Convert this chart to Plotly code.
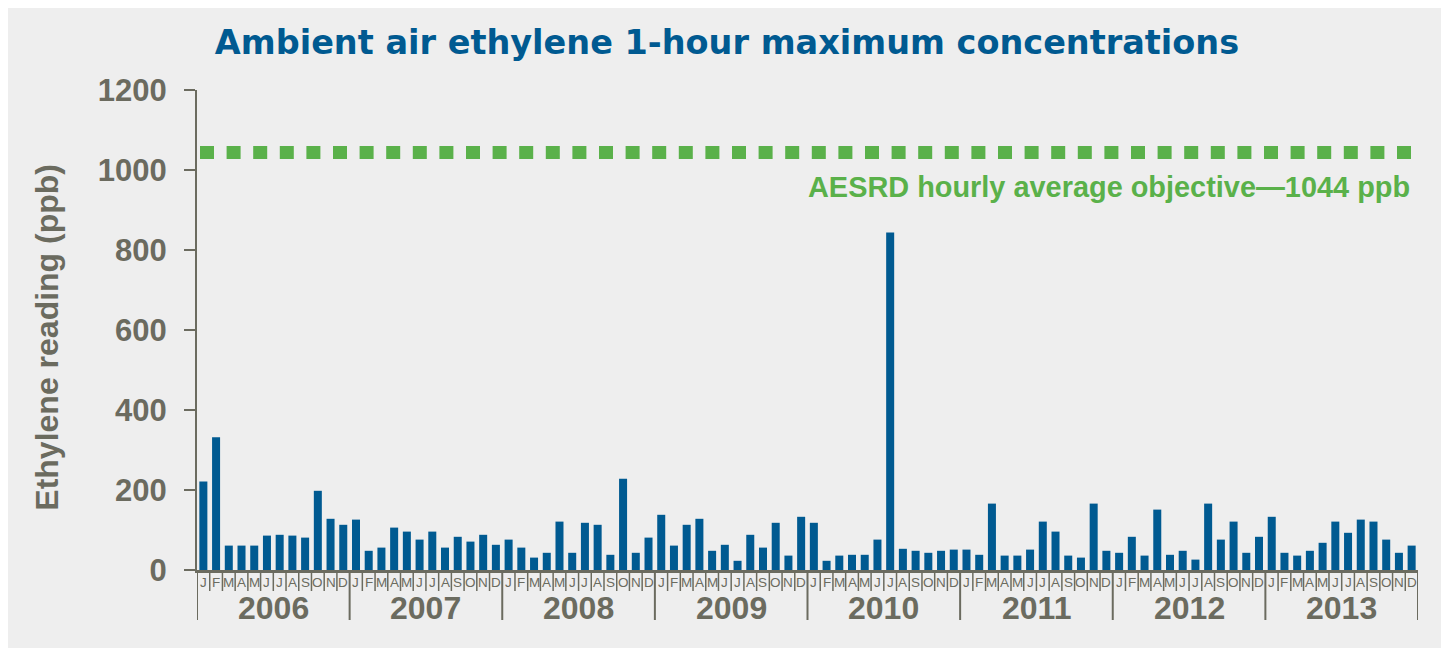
import plotly.graph_objects as go

# ---------------- data ----------------
years = ["2006", "2007", "2008", "2009", "2010", "2011", "2012", "2013"]
month_letters = ["J", "F", "M", "A", "M", "J", "J", "A", "S", "O", "N", "D"]

v2006 = [221, 332, 61, 61, 61, 86, 88, 86, 81, 198, 128, 113]
v2007 = [126, 48, 56, 106, 96, 76, 96, 56, 83, 71, 88, 63]
v2008 = [76, 56, 31, 43, 121, 43, 118, 113, 38, 228, 43, 81]
v2009 = [138, 61, 113, 128, 48, 63, 23, 88, 56, 118, 36, 133]
v2010 = [118, 23, 36, 38, 38, 76, 844, 53, 48, 43, 48, 51]
v2011 = [51, 38, 166, 36, 36, 51, 121, 96, 36, 31, 166, 48]
v2012 = [43, 83, 36, 151, 38, 48, 26, 166, 76, 121, 43, 83]
v2013 = [133, 43, 36, 48, 68, 121, 93, 126, 121, 76, 43, 61]

objective = 1044
objective_label = "AESRD hourly average objective\u20141044 ppb"
title_text = "Ambient air ethylene 1-hour maximum concentrations"
y_title = "Ethylene reading (ppb)"
y_ticks = [0, 200, 400, 600, 800, 1000, 1200]

values = v2006 + v2007 + v2008 + v2009 + v2010 + v2011 + v2012 + v2013
n = len(values)
xpos = list(range(n))
labels = month_letters * len(years)

# ---------------- styling ----------------
BLUE = "#005A91"
GREEN = "#5AB14A"
GRAY = "#6B6B5F"
BG = "#EEEEEE"
W, H = 1449, 648          # page body adds an 8px margin top/left
ML, MR, MT, MB = 189, 39, 82, 86
plot_w = W - ML - MR
plot_h = H - MT - MB
OFF = 8                    # page offset of the figure
PL = ML + OFF              # page x of plot left edge

fig = go.Figure()
fig.add_trace(go.Bar(x=xpos, y=values, marker=dict(color=BLUE, line=dict(width=0)),
                     hoverinfo="y", showlegend=False))

shapes = []
# objective line
shapes.append(dict(type="line", xref="paper", yref="y",
                   x0=3 / plot_w, x1=(1413 - PL) / plot_w, y0=objective, y1=objective,
                   line=dict(color=GREEN, width=13, dash="14px,12.6px")))

# month / year separators below axis
for i in range(n + 1):
    is_year = (i % 12 == 0)
    shapes.append(dict(type="line", xref="x", yref="paper",
                       x0=i - 0.5, x1=i - 0.5, y0=0,
                       y1=-(50 if is_year else 21) / plot_h,
                       line=dict(color=GRAY, width=2 if is_year else 1.5)))

annotations = []
for i, lab in enumerate(labels):
    annotations.append(dict(x=xpos[i], y=0, xref="x", yref="paper", text=lab,
                            showarrow=False, yanchor="middle", yshift=-12,
                            font=dict(family="Liberation Sans", size=13.5, color=GRAY)))
for k, yr in enumerate(years):
    annotations.append(dict(x=12 * k + 5.5, y=0, xref="x", yref="paper", text=yr,
                            showarrow=False, yanchor="middle", yshift=-38,
                            font=dict(family="Liberation Sans", size=32, color=GRAY,
                                      weight="bold")))
annotations.append(dict(x=(1412 - PL) / plot_w, y=957, xref="paper", yref="y",
                        text=objective_label, showarrow=False, xanchor="right",
                        yanchor="middle",
                        font=dict(family="Liberation Sans", size=28.9, color=GREEN,
                                  weight="bold")))
annotations.append(dict(x=(47 - PL) / plot_w, y=0.484, xref="paper", yref="paper",
                        text=y_title, showarrow=False, textangle=-90,
                        xanchor="center", yanchor="middle",
                        font=dict(family="Liberation Sans", size=32, color=GRAY,
                                  weight="bold")))

fig.update_layout(
    width=W, height=H,
    margin=dict(l=ML, r=MR, t=MT, b=MB, pad=0),
    paper_bgcolor=BG, plot_bgcolor=BG,
    bargap=0.37,
    title=dict(text=title_text, x=(727 - PL) / plot_w, xref="paper", xanchor="center",
               y=1 - (42 - OFF) / H, yanchor="middle",
               font=dict(family="DejaVu Sans", size=33.5, color=BLUE, weight="bold")),
    xaxis=dict(range=[-0.5, n - 0.5], showticklabels=False, ticks="",
               showgrid=False, zeroline=False, showline=True, linecolor=GRAY,
               linewidth=2.5),
    yaxis=dict(range=[0, 1200], tickvals=y_ticks, ticks="outside", ticklen=11,
               tickwidth=2, tickcolor=GRAY, showgrid=False, zeroline=False,
               showline=True, linecolor=GRAY, linewidth=2,
               ticklabelstandoff=11,
               tickfont=dict(family="Liberation Sans", size=31, color=GRAY,
                             weight="bold")),
    shapes=shapes,
    annotations=annotations,
)

fig.write_html("out.html")
